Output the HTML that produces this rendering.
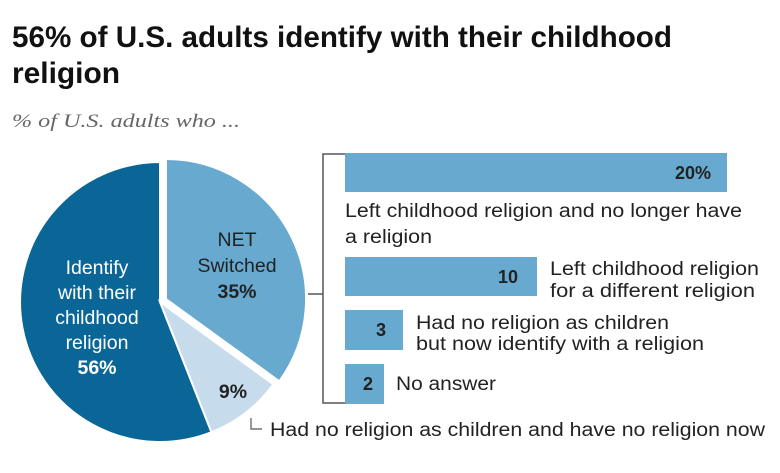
<!DOCTYPE html>
<html><head><meta charset="utf-8"><style>
body{margin:0;background:#fff;width:780px;height:468px;overflow:hidden}
</style></head><body>
<svg width="780" height="468" xmlns="http://www.w3.org/2000/svg" font-family="Liberation Sans, sans-serif">
<text x="12" y="47" font-family="Liberation Sans Narrow, Liberation Sans, sans-serif" font-weight="bold" font-size="30" fill="#111" textLength="660" lengthAdjust="spacingAndGlyphs">56% of U.S. adults identify with their childhood</text>
<text x="12" y="83" font-family="Liberation Sans Narrow, Liberation Sans, sans-serif" font-weight="bold" font-size="30" fill="#111" textLength="108" lengthAdjust="spacingAndGlyphs">religion</text>
<text x="12" y="127" font-family="Liberation Serif, serif" font-style="italic" font-size="19" fill="#666" textLength="228" lengthAdjust="spacingAndGlyphs">% of U.S. adults who ...</text>
<g stroke="#fff" stroke-width="2">
<path d="M160,302 L211.5,432.2 A140,140 0 1 1 160,162 Z" fill="#0b6698"/>
<path d="M160,302 L273.3,384.3 A140,140 0 0 1 211.5,432.2 Z" fill="#c6dcec"/>
<path d="M166,299 L166,159 A140,140 0 0 1 279.3,381.3 Z" fill="#67a9cf"/>
</g>
<g font-size="19.5" text-anchor="middle" fill="#fff">
<text x="97" y="274">Identify</text>
<text x="97" y="299">with their</text>
<text x="97" y="324">childhood</text>
<text x="97" y="349">religion</text>
<text x="97" y="374" font-weight="bold">56%</text>
</g>
<g font-size="19.5" text-anchor="middle" fill="#222">
<text x="237" y="246">NET</text>
<text x="237" y="272">Switched</text>
<text x="237" y="298" font-weight="bold">35%</text>
<text x="233" y="398" font-weight="bold">9%</text>
</g>
<path d="M345,154 H323 V403 H345 M323,294 H308" fill="none" stroke="#555" stroke-width="1.5"/>
<g fill="#67a9cf">
<rect x="345" y="153" width="382" height="39"/>
<rect x="345" y="257" width="192" height="39"/>
<rect x="345" y="310" width="58" height="40"/>
<rect x="345" y="364" width="39" height="40"/>
</g>
<g font-size="18" font-weight="bold" fill="#222" text-anchor="end">
<text x="711" y="179">20%</text>
<text x="518" y="283">10</text>
<text x="386" y="336">3</text>
<text x="373" y="390">2</text>
</g>
<g font-size="19" fill="#222" lengthAdjust="spacingAndGlyphs">
<text x="345" y="217" textLength="397" lengthAdjust="spacingAndGlyphs">Left childhood religion and no longer have</text>
<text x="345" y="243" textLength="87" lengthAdjust="spacingAndGlyphs">a religion</text>
<text x="550" y="275" textLength="209" lengthAdjust="spacingAndGlyphs">Left childhood religion</text>
<text x="550" y="297" textLength="205" lengthAdjust="spacingAndGlyphs">for a different religion</text>
<text x="416" y="329" textLength="253" lengthAdjust="spacingAndGlyphs">Had no religion as children</text>
<text x="416" y="350" textLength="288" lengthAdjust="spacingAndGlyphs">but now identify with a religion</text>
<text x="396" y="390" textLength="100" lengthAdjust="spacingAndGlyphs">No answer</text>
<text x="270" y="436" textLength="495" lengthAdjust="spacingAndGlyphs">Had no religion as children and have no religion now</text>
</g>
<path d="M251,418 V429 H262" fill="none" stroke="#555" stroke-width="1.2"/>
</svg>
</body></html>
